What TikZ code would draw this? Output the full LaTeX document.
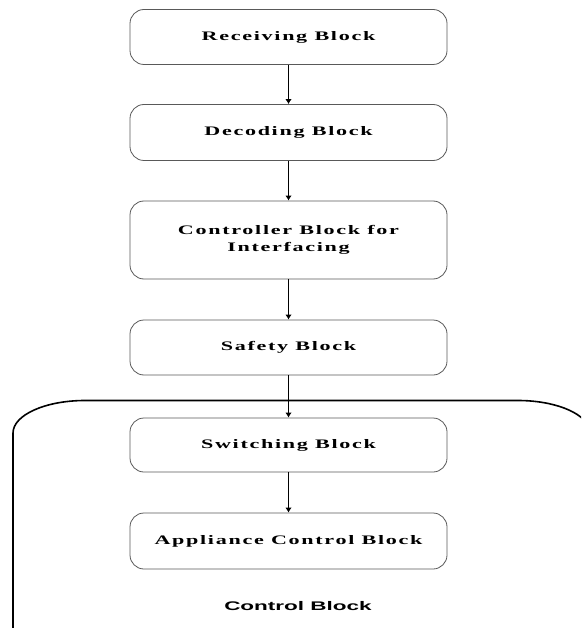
\documentclass[tikz,border=0pt]{standalone}
\usepackage{fontspec}
\usepackage{tikz}
\usetikzlibrary{arrows.meta}
\newfontfamily\blockfont{Liberation Serif}[FakeStretch=1.7,LetterSpace=13]
\newfontfamily\groupfont{Liberation Sans}[FakeStretch=1.8]

\begin{document}
\begin{tikzpicture}[x=1pt, y=-1pt,
		blockbox/.style={draw=black!65, line width=0.8pt, rounded corners=14pt,
			minimum width=317pt, align=center, inner sep=0pt,
			font=\blockfont\bfseries\fontsize{13}{17}\selectfont},
		flow/.style={line width=1.8pt, -{Latex[length=5pt,width=6.5pt]}}]
			%%%%% START %%%%%
			
			\useasboundingbox (0, 0) rectangle (581, 628);
			\clip (0, 0) rectangle (581, 628);
			
			% outer control block frame
			\draw[line width=1.6pt] (13, 640) -- (13, 433) arc (180:270:72 and 32.5) -- (518, 400.5) arc (270:350:72 and 32.5);
			\node (ctrl) at (298, 606) {\groupfont\bfseries\fontsize{12.5}{15}\selectfont Control Block};
			
			\node[blockbox, minimum height=55pt] (recv) at (288.5, 37) {Receiving Block};
			\node[blockbox, minimum height=56pt] (decode) at (288.5, 132.5) {Decoding Block};
			\node[blockbox, minimum height=78pt] (iface) at (288.5, 240) {Controller Block for\\Interfacing};
			\node[blockbox, minimum height=55pt] (safe) at (288.5, 347.5) {Safety Block};
			\node[blockbox, minimum height=54pt] (switch) at (288.5, 445) {Switching Block};
			\node[blockbox, minimum height=56pt] (appl) at (288.5, 541) {Appliance Control Block};
			
			\draw[flow] (recv) -- (decode);
			\draw[flow] (decode) -- (iface);
			\draw[flow] (iface) -- (safe);
			\draw[flow] (safe) -- (switch);
			\draw[flow] (switch) -- (appl);
			
			%%%%% END %%%%%
		\end{tikzpicture}
\end{document}
